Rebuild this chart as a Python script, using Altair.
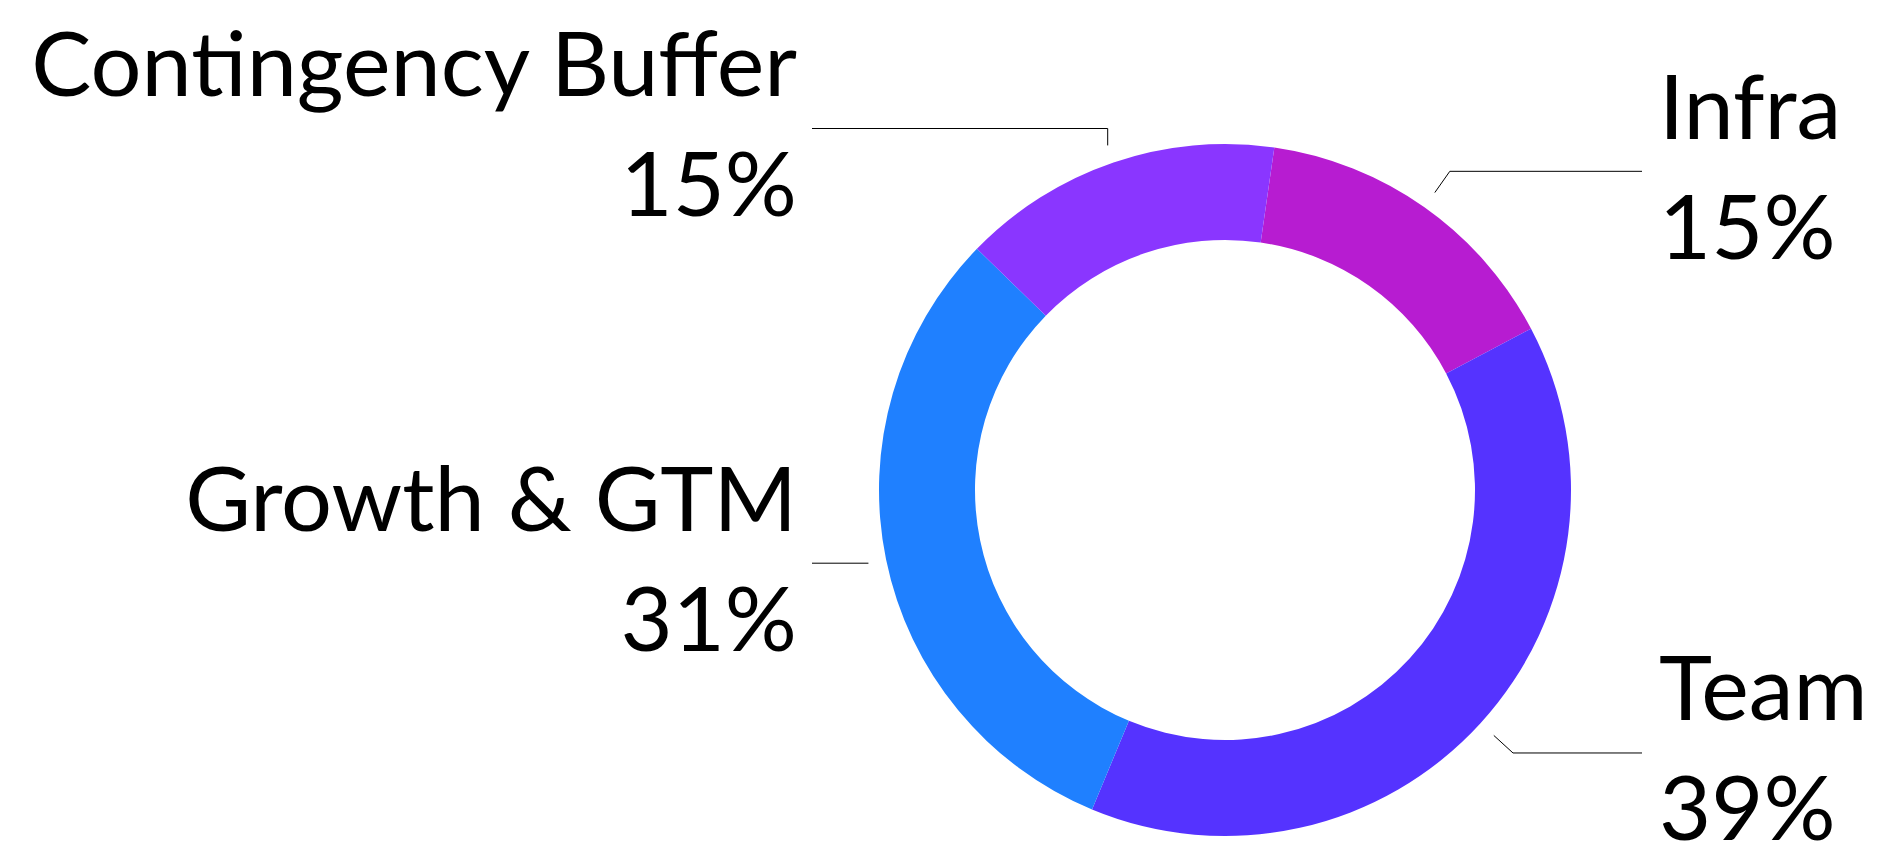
import math
import altair as alt
import pandas as pd

# ---- data ----
categories = ["Infra", "Team", "Growth & GTM", "Contingency Buffer"]
values = [15, 39, 31, 15]
pct_labels = ["15%", "39%", "31%", "15%"]
colors = ["#B71CD1", "#5533FF", "#1F80FF", "#8A36FF"]

# ---- layout constants ----
W, H = 1884, 845
CX, CY = 1225, 490          # donut centre in the canvas
R_OUT, R_IN = 346, 250
START = math.radians(8.2)   # start angle of first slice (clockwise from 12 o'clock)
LINE_R1 = R_OUT + 18
LINE_R2 = R_OUT + 44
LEFT_LINE_END = 812 - CX
RIGHT_LINE_END = 1642 - CX
LEFT_TEXT_X = 797 - CX
RIGHT_TEXT_X = 1659 - CX
TOP_LIMIT = 128.5 - CY
FONT = "Lato"
FONT_SIZE = 90

total = sum(values)
arc_rows, line_rows, label_rows = [], [], []
cum = 0
for i, (cat, v, p) in enumerate(zip(categories, values, pct_labels)):
    a0 = START + 2 * math.pi * cum / total
    cum += v
    a1 = START + 2 * math.pi * cum / total
    mid = (a0 + a1) / 2
    dx, dy = math.sin(mid), -math.cos(mid)
    sx, sy = LINE_R1 * dx, LINE_R1 * dy
    ex, ey = LINE_R2 * dx, LINE_R2 * dy
    if ey < TOP_LIMIT:
        ey, ex = TOP_LIMIT, sx
    if abs(dy) < 0.25:
        ex, ey = sx, sy
    right = dx > 0
    endx = RIGHT_LINE_END if right else LEFT_LINE_END
    for k, (px, py) in enumerate([(sx, sy), (ex, ey), (endx, ey)]):
        line_rows.append({"category": cat, "k": k, "x": px, "y": py})
    tx = RIGHT_TEXT_X if right else LEFT_TEXT_X
    align = "left" if right else "right"
    label_rows.append({"category": cat, "text": cat, "x": tx, "y": ey - 32.5, "align": align})
    label_rows.append({"category": cat, "text": p, "x": tx, "y": ey + 87.5, "align": align})
    arc_rows.append({"category": cat, "value": v, "idx": i, "cx": 0, "cy": 0})

arc_df = pd.DataFrame(arc_rows)
line_df = pd.DataFrame(line_rows)
lab_df = pd.DataFrame(label_rows)

xs = alt.Scale(domain=[-CX, W - CX], range=[0, W], nice=False, zero=False)
ys = alt.Scale(domain=[-CY, H - CY], range=[0, H], nice=False, zero=False)

arcs = alt.Chart(arc_df).mark_arc(innerRadius=R_IN, outerRadius=R_OUT, strokeWidth=0).encode(
    x=alt.X("cx:Q", scale=xs, axis=None),
    y=alt.Y("cy:Q", scale=ys, axis=None),
    theta=alt.Theta("value:Q", stack=True,
                    scale=alt.Scale(range=[START, START + 2 * math.pi])),
    order=alt.Order("idx:Q"),
    color=alt.Color("category:N", scale=alt.Scale(domain=categories, range=colors), legend=None),
)

lines = alt.Chart(line_df).mark_line(color="#000000", strokeWidth=1).encode(
    x=alt.X("x:Q", scale=xs, axis=None),
    y=alt.Y("y:Q", scale=ys, axis=None),
    detail="category:N",
    order="k:Q",
)

left_text = alt.Chart(lab_df).transform_filter(alt.datum.align == "right").mark_text(
    align="right", baseline="alphabetic", font=FONT, fontSize=FONT_SIZE, color="#000000"
).encode(
    x=alt.X("x:Q", scale=xs, axis=None),
    y=alt.Y("y:Q", scale=ys, axis=None),
    text="text:N",
)
right_text = alt.Chart(lab_df).transform_filter(alt.datum.align == "left").mark_text(
    align="left", baseline="alphabetic", font=FONT, fontSize=FONT_SIZE, color="#000000"
).encode(
    x=alt.X("x:Q", scale=xs, axis=None),
    y=alt.Y("y:Q", scale=ys, axis=None),
    text="text:N",
)

chart = alt.layer(arcs, lines, left_text, right_text).properties(
    width=W, height=H, autosize=alt.AutoSizeParams(type="none"), padding=0,
    background="white",
).configure_view(stroke=None)

chart.save("out.html", embed_options={"renderer": "svg", "actions": False})
